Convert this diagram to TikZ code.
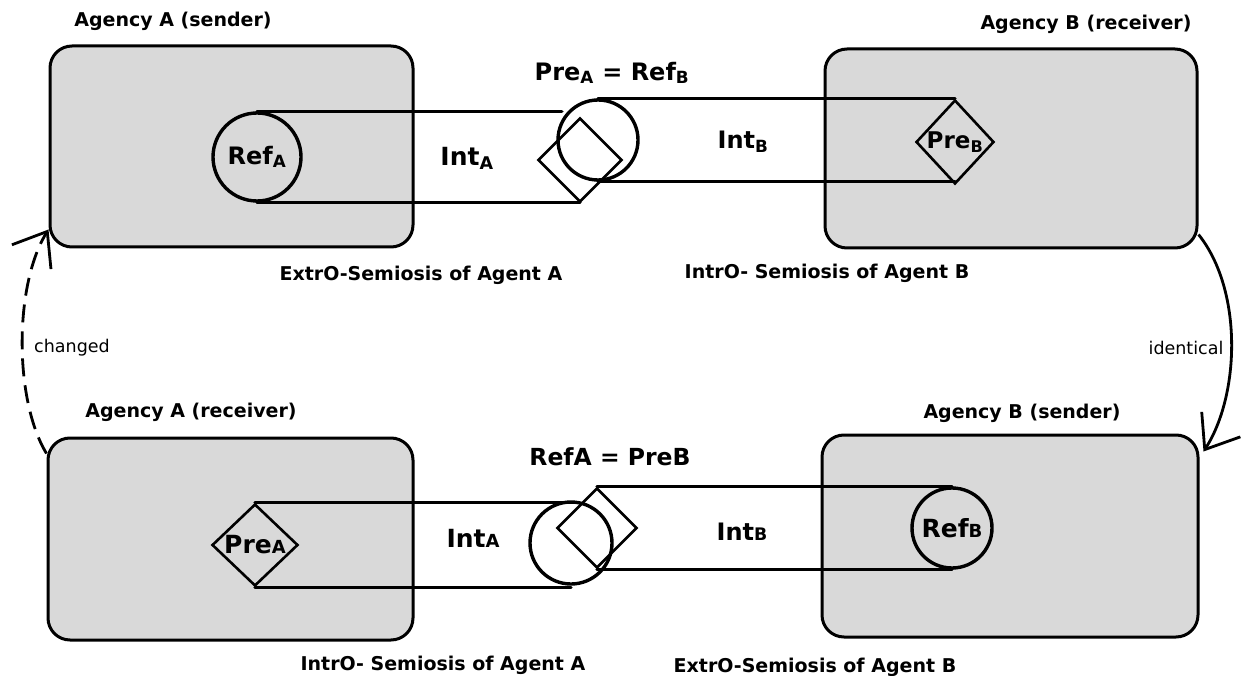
\documentclass[tikz,border=0pt]{standalone}
\usepackage{fontspec}
\setmainfont{DejaVu Sans}
\usetikzlibrary{shapes.geometric,arrows.meta}
\definecolor{boxgray}{RGB}{217,217,217}
\newcommand\smcap[1]{\scalebox{0.72}{#1}}
\tikzset{
  box/.style={draw, fill=boxgray, line width=3pt, rounded corners=22pt, inner sep=0pt},
  pipe/.style={line width=3.4pt, line cap=round},
  circ/.style={circle, draw, line width=3.4pt, inner sep=0pt},
  diam/.style={diamond, draw, line width=2.6pt, inner sep=0pt},
  lbl/.style={font=\bfseries\fontsize{19}{22}\selectfont, inner sep=0pt},
  big/.style={font=\bfseries\fontsize{#1}{#1}\selectfont, inner sep=0pt},
  small/.style={font=\fontsize{17.5}{20}\selectfont, inner sep=0pt},
  arr/.style={-{Straight Barb[length=30pt,width=46pt]}, line width=2.8pt}
}
\begin{document}
\begin{tikzpicture}[x=1pt,y=-1pt]
\useasboundingbox (0,0) rectangle (1242,676);
% boxes
\node[box, minimum width=363pt, minimum height=201pt] (A1) at (231.5,146.5) {};
\node[box, minimum width=372pt, minimum height=199pt] (B1) at (1011,148.5) {};
\node[box, minimum width=365pt, minimum height=202pt] (A2) at (230.5,539) {};
\node[box, minimum width=376pt, minimum height=202pt] (B2) at (1010,536) {};
% top row shapes
\node[circ, minimum size=88pt, label={[big=24]center:Ref\textsubscript{A}}] (RefA1) at (257,157) {};
\node[diam, minimum width=84pt, minimum height=84pt] (PreA1) at (580,160) {};
\node[circ, minimum size=80pt] (RefB1) at (598,140) {};
\node[diam, minimum width=78pt, minimum height=84pt, label={[big=23]center:Pre\textsubscript{B}}] (PreB1) at (955,142) {};
% top row pipes
\draw[pipe] (RefA1.north) -- (RefA1.north -| RefB1.150);
\draw[pipe] (RefA1.south) -- (RefA1.south -| PreA1.south);
\draw[pipe] (RefB1.north) -- (RefB1.north -| PreB1.north);
\draw[pipe] (RefB1.south) -- (RefB1.south -| PreB1.south);
% bottom row shapes
\node[diam, minimum width=86pt, minimum height=82pt, label={[big=25]center:Pre\smcap{A}}] (PreA2) at (255,545) {};
\node[circ, minimum size=82pt] (RefA2) at (571,543) {};
\node[diam, minimum width=80pt, minimum height=80pt] (PreB2) at (597,528) {};
\node[circ, minimum size=80pt, label={[big=25]center:Ref\smcap{B}}] (RefB2) at (952,528) {};
% bottom row pipes
\draw[pipe] (PreA2.north) -- (PreA2.north -| PreB2.north west);
\draw[pipe] (PreA2.south) -- (PreA2.south -| RefA2.south);
\draw[pipe] (PreB2.north) -- (PreB2.north -| RefB2.north);
\draw[pipe] (PreB2.south) -- (PreB2.south -| RefB2.south);
% pipe labels
\node[big=25] (IntA1) at (467,158) {Int\textsubscript{A}};
\node[big=24] (IntB1) at (743,142) {Int\textsubscript{B}};
\node[big=25] (IntA2) at (473,538) {Int\smcap{A}};
\node[big=24] (IntB2) at (742,532) {Int\smcap{B}};
\node[big=24] (eq1) at (612,73) {Pre\textsubscript{A} = Ref\textsubscript{B}};
\node[big=23.5] (eq2) at (610,457) {RefA = PreB};
% agency labels
\node[lbl] (tA1) at (173,21) {Agency A (sender)};
\node[lbl] (tB1) at (1086,24) {Agency B (receiver)};
\node[lbl] (tA2) at (191,412) {Agency A (receiver)};
\node[lbl] (tB2) at (1022,413) {Agency B (sender)};
\node[lbl] (sA1) at (421,275) {ExtrO-Semiosis of Agent A};
\node[lbl] (sB1) at (827,273) {IntrO- Semiosis of Agent B};
\node[lbl] (sA2) at (443,665) {IntrO- Semiosis of Agent A};
\node[lbl] (sB2) at (815,667) {ExtrO-Semiosis of Agent B};
% side arrows
\coordinate (cl0) at ([yshift=-17pt]A2.north west);
\coordinate (cl1) at ([yshift=19pt]A1.south west);
\draw[arr, dash pattern=on 18pt off 9pt] (cl0) .. controls (14,400) and (14,285) .. (cl1);
\coordinate (cr0) at ([yshift=15pt]B1.south east);
\coordinate (cr1) at ([yshift=-18pt,xshift=4pt]B2.north east);
\draw[arr] (cr0) .. controls (1243,290) and (1240,395) .. (cr1);
\node[small] (chg) at (72,348) {changed};
\node[small] (idt) at (1186,348) {identical};
\end{tikzpicture}
\end{document}
